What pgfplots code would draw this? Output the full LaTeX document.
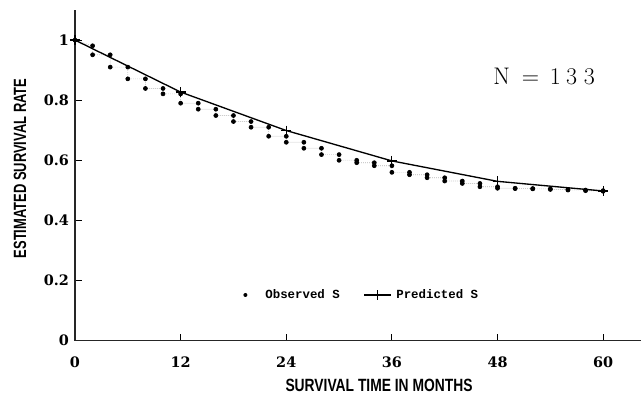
\documentclass[border=0pt]{standalone}
\usepackage{fontspec}
\usepackage{graphicx}
\usepackage{pgfplots}
\pgfplotsset{compat=1.18}
\newfontfamily\tickfont{DejaVu Serif}
\newfontfamily\labelfont{Liberation Sans}
\newfontfamily\legfont{Liberation Mono}

\pgfplotstableread{
x y
0 1.000
2 0.981
2 0.951
4 0.951
4 0.910
6 0.910
6 0.871
8 0.871
8 0.839
10 0.839
10 0.821
12 0.821
12 0.790
14 0.790
14 0.770
16 0.770
16 0.749
18 0.749
18 0.729
20 0.729
20 0.710
22 0.710
22 0.680
24 0.680
24 0.660
26 0.660
26 0.640
28 0.640
28 0.619
30 0.619
30 0.600
32 0.600
32 0.592
34 0.592
34 0.582
36 0.582
36 0.560
38 0.560
38 0.552
40 0.552
40 0.542
42 0.542
42 0.531
44 0.531
44 0.523
46 0.523
46 0.512
48 0.512
48 0.507
50 0.507
50 0.506
52 0.506
52 0.505
54 0.505
54 0.503
56 0.503
56 0.501
58 0.501
58 0.499
60 0.499
60 0.497
}\observed

\pgfplotstableread{
x y
0 1.000
12 0.827
24 0.699
36 0.598
48 0.530
60 0.498
}\predicted

\begin{document}
\begin{tikzpicture}
\begin{axis}[
  scale only axis, width=424.5pt, height=248pt,
  xmin=0, xmax=64.3, ymin=0, ymax=1.1,
  axis x line=bottom, axis y line=left,
  axis line style={-, line width=0.9pt, black!85},
  tick align=inside, major tick length=5pt,
  tick style={line width=0.8pt, black},
  xtick={0,12,24,36,48,60},
  ytick={0,0.2,0.4,0.6,0.8,1},
  /pgf/number format/assume math mode=true,
  tick label style={font=\tickfont\bfseries\fontsize{10.8}{12}\selectfont},
  xticklabel style={yshift=-8.5pt},
  yticklabel style={xshift=-1pt},
  clip=false,
  legend columns=2,
  legend style={at={(axis cs:19.1,0.152)}, anchor=west, draw=none, fill=none,
    inner sep=0pt,
    font=\legfont\bfseries\fontsize{9.3}{10}\selectfont,
    /tikz/every even column/.append style={column sep=16pt}},
]
\addplot[gray!60, densely dotted, line width=0.5pt,
  mark=*, mark size=1.5pt, mark options={solid, fill=black, draw=black},
  legend image code/.code={\path[draw=none] (0pt,0pt) -- (13pt,0pt); \fill[black, draw=none] (0pt,0pt) circle (1.5pt);}]
  table[x=x, y=y] {\observed};
\addlegendentry{Observed S}
\addplot[black, line width=1pt, mark=+, mark size=3.75pt, mark options={line width=0.9pt},
  legend image code/.code={\draw[black, solid, line width=0.8pt] (0pt,0pt) -- (20pt,0pt);
    \draw[black, solid, line width=0.8pt] (10pt,-3.75pt) -- (10pt,3.75pt); \path[draw=none] (22pt,0pt);}]
  table[x=x, y=y] {\predicted};
\addlegendentry{Predicted S}
\end{axis}
\node[font=\labelfont\bfseries\fontsize{13.3}{15}\selectfont] at (228pt,-33.2pt)
  {\scalebox{0.78}[1]{SURVIVAL TIME IN MONTHS}};
\node[rotate=90, font=\labelfont\bfseries\fontsize{13.3}{15}\selectfont] at (-41.25pt,129.2pt)
  {\scalebox{0.73}[1]{ESTIMATED SURVIVAL RATE}};
\node[anchor=west, inner sep=0pt, font=\fontsize{18}{20}\selectfont] at (313.5pt,198.5pt)
  {N\hspace{9pt}=\hspace{8pt}1\hspace{4pt}3\hspace{5pt}3};
\pgfresetboundingbox
\path[use as bounding box] (-56.25pt,-40pt) rectangle (424.5pt,255.5pt);
\end{tikzpicture}
\end{document}
